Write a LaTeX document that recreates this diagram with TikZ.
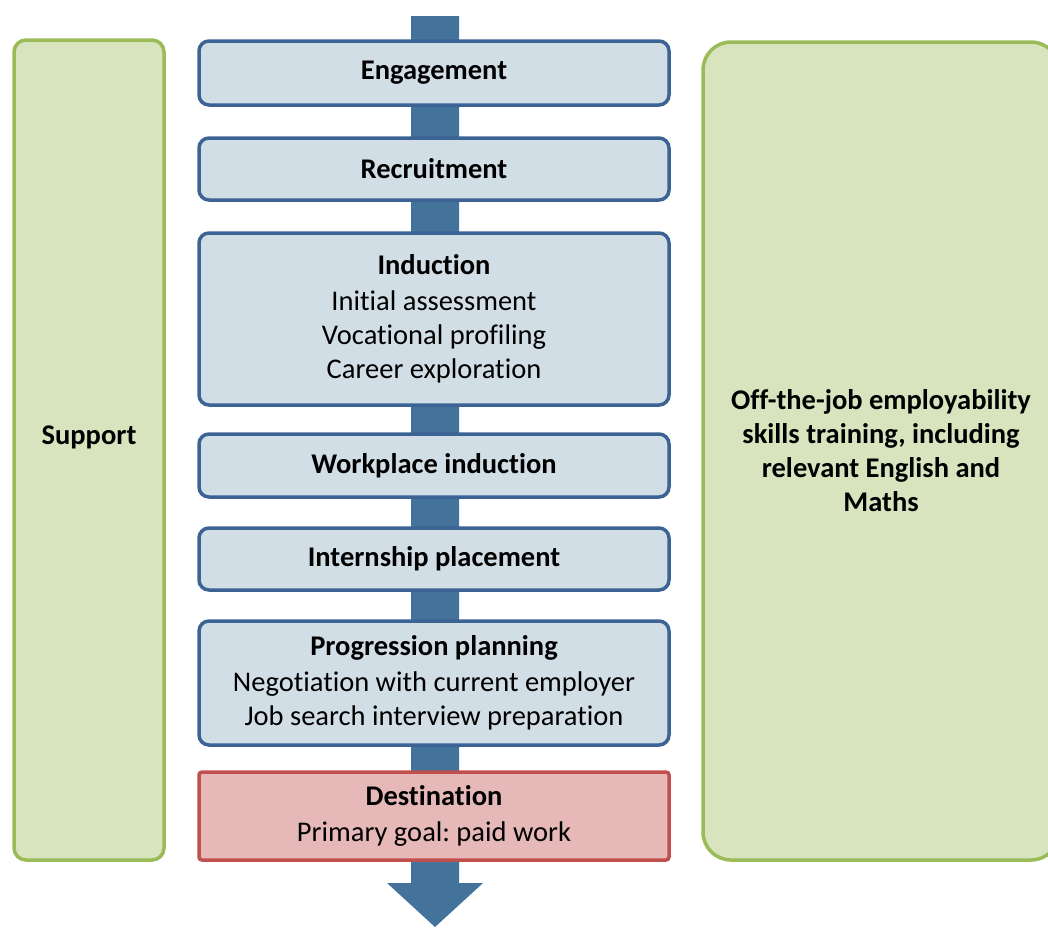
\documentclass[tikz,border=0pt]{standalone}
\usepackage{fontspec}
\setmainfont{Carlito}[Ligatures=NoCommon]
\usepackage{tikz}
\usetikzlibrary{positioning}
\definecolor{stepFill}{HTML}{D2DEE6}
\definecolor{stepLine}{HTML}{3B6394}
\definecolor{flowBlue}{HTML}{43729A}
\definecolor{sideFill}{HTML}{D7E4BD}
\definecolor{sideLine}{HTML}{9BBB59}
\definecolor{goalFill}{HTML}{E6B9B8}
\definecolor{goalLine}{HTML}{C0504D}
\tikzset{
  stepbox/.style={draw=stepLine, fill=stepFill, line width=3.5pt, rounded corners=10pt,
    minimum width=470pt, align=center, inner sep=0pt},
  goalbox/.style={stepbox, draw=goalLine, fill=goalFill, rounded corners=3pt},
  sidebox/.style={draw=sideLine, fill=sideFill, line width=3.5pt, align=center, inner sep=0pt},
  headtxt/.style={font=\fontsize{28.5}{34}\selectfont\bfseries},
}
\newcommand{\stephead}[1]{{\bfseries #1}\\[2pt]}
\frenchspacing

\begin{document}
\begin{tikzpicture}[x=1pt, y=-1pt, font=\fontsize{28.5}{34}\selectfont]
\useasboundingbox (0,0) rectangle (1048,927);
% main flow arrow behind the steps
\coordinate (flowtop) at (435,16);
\coordinate (flowtip) at (435,927);
\fill[flowBlue] ([xshift=-24pt]flowtop) -- ([xshift=24pt]flowtop) -- (459,883) -- (483,883)
  -- (flowtip) -- (387,883) -- (411,883) -- cycle;
% side boxes
\node[sidebox, rounded corners=12pt, minimum width=150pt, minimum height=820pt] (support) at (89,450) {};
\node[headtxt] (supporttxt) at (89,437) {Support};
\node[sidebox, rounded corners=28pt, minimum width=356pt, minimum height=818pt, headtxt] (offjob) at (881,451)
  {Off-the-job employability\\skills training, including\\relevant English and\\Maths};
% steps
\node[stepbox, minimum height=64pt, headtxt] (engage) at (434,73) {Engagement};
\node[stepbox, minimum height=62pt, headtxt] (recruit) at (434,169) {Recruitment};
\node[stepbox, minimum height=172pt] (induct) at (434,319)
  {\stephead{Induction}Initial assessment\\Vocational profiling\\Career exploration};
\node[stepbox, minimum height=63pt, headtxt] (workind) at (434,465.5) {Workplace induction};
\node[stepbox, minimum height=62pt, headtxt] (intern) at (434,559) {Internship placement};
\node[stepbox, minimum height=124pt] (progress) at (434,683)
  {\stephead{Progression planning}Negotiation with current employer\\Job search interview preparation};
\node[goalbox, minimum height=88pt] (dest) at (434,816)
  {\stephead{Destination}Primary goal: paid work};
\end{tikzpicture}
\end{document}
